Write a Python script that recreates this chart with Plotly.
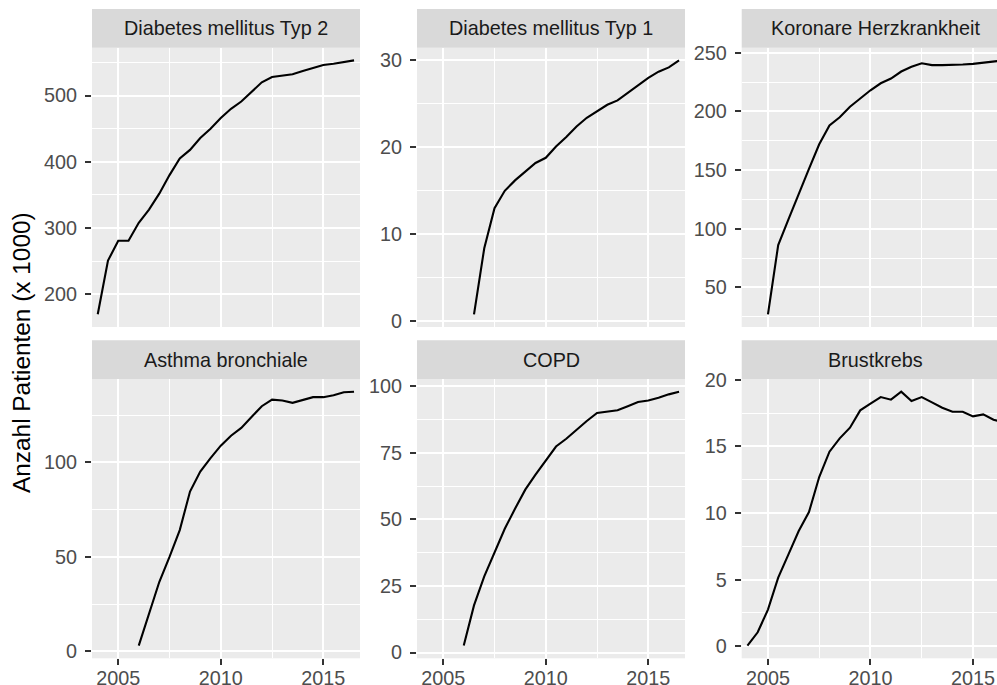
import plotly.graph_objects as go

# ---------------- data ----------------
YEARS = [2004.0, 2004.5, 2005.0, 2005.5, 2006.0, 2006.5, 2007.0, 2007.5, 2008.0, 2008.5,
         2009.0, 2009.5, 2010.0, 2010.5, 2011.0, 2011.5, 2012.0, 2012.5, 2013.0, 2013.5,
         2014.0, 2014.5, 2015.0, 2015.5, 2016.0, 2016.5]

PANELS = ["Diabetes mellitus Typ 2", "Diabetes mellitus Typ 1", "Koronare Herzkrankheit",
          "Asthma bronchiale", "COPD", "Brustkrebs"]

dm2 = [170, 251, 281, 281, 308, 328, 352, 380, 405, 418, 436, 450, 466, 480, 491, 506,
       520, 528, 530, 532, 537, 542, 546, 548, 551, 553]
dm1 = [None, None, None, None, None, 0.8, 8.4, 13.0, 15.0, 16.2, 17.2, 18.2, 18.8, 20.1,
       21.2, 22.4, 23.4, 24.2, 24.9, 25.4, 26.3, 27.2, 28.0, 28.7, 29.2, 30.0]
khk = [None, None, 27, 86, 108, 130, 151, 172, 188, 195, 204, 211, 218, 224, 228, 234,
       238, 241, 239.5, 239.5, 239.5, 240, 240.5, 241.5, 242.5, 243.5]
asthma = [None, None, None, None, 3.0, 20.0, 36.7, 50.0, 64.2, 84.6, 95.2, 102.3, 108.9,
          114.2, 118.3, 124.1, 129.8, 133.3, 132.8, 131.6, 133.3, 134.6, 134.6, 135.6,
          137.2, 137.5]
copd = [None, None, None, None, 2.6, 17.7, 28.6, 37.3, 46.5, 54.0, 61.2, 66.8, 72.2, 77.4,
        80.3, 83.7, 87.0, 90.0, 90.5, 91.0, 92.5, 94.1, 94.7, 95.7, 97.0, 98.0]
brust = [0.05, 1.05, 2.75, 5.15, 6.9, 8.65, 10.07, 12.7, 14.6, 15.6, 16.4, 17.7, 18.2, 18.7,
         18.5, 19.1, 18.4, 18.7, 18.3, 17.9, 17.6, 17.6, 17.25, 17.4, 17.0, 16.8]

SERIES = [dm2, dm1, khk, asthma, copd, brust]

X_TICKS = [2005, 2010, 2015]
X_TICKTEXT = ["2005", "2010", "2015"]
X_MINOR = [2002.5, 2007.5, 2012.5, 2017.5]

Y_TICKS = [[200, 300, 400, 500], [0, 10, 20, 30], [50, 100, 150, 200, 250],
           [0, 50, 100], [0, 25, 50, 75, 100], [0, 5, 10, 15, 20]]

Y_TITLE = "Anzahl Patienten (x 1000)"
X_RANGE = (2003.72, 2016.79)

# ---------------- layout geometry (pixels) ----------------
W, H = 997, 685
PANEL_LEFT = [92, 417, 741.7]
PANEL_W = 268
PANEL_TOP = [47.7, 379.0]
PANEL_H = 279.3
STRIP_H = 38.7

FONT = "Liberation Sans, Arial, Helvetica, sans-serif"
TICK_FONT = dict(family=FONT, size=19.8, color="#4D4D4D")
STRIP_FONT = dict(family=FONT, size=19.8, color="#1A1A1A")

fig = go.Figure()
shapes = []
annotations = []

for i, (name, vals) in enumerate(zip(PANELS, SERIES)):
    r, c = divmod(i, 3)
    idx = "" if i == 0 else str(i + 1)
    left = PANEL_LEFT[c]
    right_full = left + PANEL_W
    right_vis = min(right_full, W)
    top = PANEL_TOP[r]
    bottom = top + PANEL_H

    x_hi = X_RANGE[0] + (X_RANGE[1] - X_RANGE[0]) * (right_vis - left) / PANEL_W

    present = [v for v in vals if v is not None]
    lo, hi = min(present), max(present)
    pad = 0.05 * (hi - lo)
    yr = [lo - pad, hi + pad]

    ticks = Y_TICKS[i]
    step = ticks[1] - ticks[0]
    yminor = [ticks[0] - step / 2] + [t + step / 2 for t in ticks]

    fig.add_trace(go.Scatter(
        x=YEARS, y=vals, mode="lines",
        line=dict(color="black", width=2.1),
        xaxis="x" + idx, yaxis="y" + idx,
        showlegend=False, hoverinfo="skip", connectgaps=False,
    ))

    fig.layout["xaxis" + idx] = dict(
        domain=[left / W, right_vis / W],
        anchor="y" + idx,
        range=[X_RANGE[0], x_hi],
        automargin=False,
        tickmode="array", tickvals=X_TICKS, ticktext=X_TICKTEXT,
        showticklabels=(r == 1),
        ticks="outside" if r == 1 else "",
        ticklen=6, tickwidth=2, tickcolor="#333333",
        ticklabelstandoff=-4,
        tickfont=TICK_FONT,
        showgrid=True, gridcolor="white", gridwidth=2.2,
        minor=dict(tickmode="array", tickvals=X_MINOR, showgrid=True,
                   gridcolor="white", gridwidth=1.1, ticks=""),
        zeroline=False, showline=False, fixedrange=True,
    )
    fig.layout["yaxis" + idx] = dict(
        domain=[1 - bottom / H, 1 - top / H],
        anchor="x" + idx,
        range=yr,
        automargin=False,
        tickmode="array", tickvals=ticks, ticktext=[str(t) for t in ticks],
        ticks="outside", ticklen=6, tickwidth=2, tickcolor="#333333",
        ticklabelstandoff=4,
        tickfont=TICK_FONT,
        showgrid=True, gridcolor="white", gridwidth=2.2,
        minor=dict(tickmode="array", tickvals=yminor, showgrid=True,
                   gridcolor="white", gridwidth=1.1, ticks=""),
        zeroline=False, showline=False, fixedrange=True,
    )

    # facet strip
    shapes.append(dict(
        type="rect", xref="paper", yref="paper",
        x0=left / W, x1=right_vis / W,
        y0=1 - top / H, y1=1 - (top - STRIP_H) / H,
        fillcolor="#D9D9D9", line=dict(width=0), layer="below",
    ))
    annotations.append(dict(
        text=name, xref="paper", yref="paper",
        x=(left + PANEL_W / 2) / W, y=1 - (top - STRIP_H / 2) / H,
        xanchor="center", yanchor="middle", showarrow=False, font=STRIP_FONT,
    ))

annotations.append(dict(
    text=Y_TITLE, xref="paper", yref="paper",
    x=22 / W, y=1 - (PANEL_TOP[0] + PANEL_TOP[1] + PANEL_H) / 2 / H,
    xanchor="center", yanchor="middle", textangle=-90, showarrow=False,
    font=dict(family=FONT, size=24.4, color="black"),
))

fig.update_layout(
    width=W, height=H,
    margin=dict(l=0, r=0, t=0, b=0, pad=0, autoexpand=False),
    paper_bgcolor="white", plot_bgcolor="#EBEBEB",
    shapes=shapes, annotations=annotations,
    font=dict(family=FONT),
)

fig.write_html(
    "out.html",
    config={"displayModeBar": False},
    post_script="document.body.style.margin='0';document.body.style.overflow='hidden';",
)
